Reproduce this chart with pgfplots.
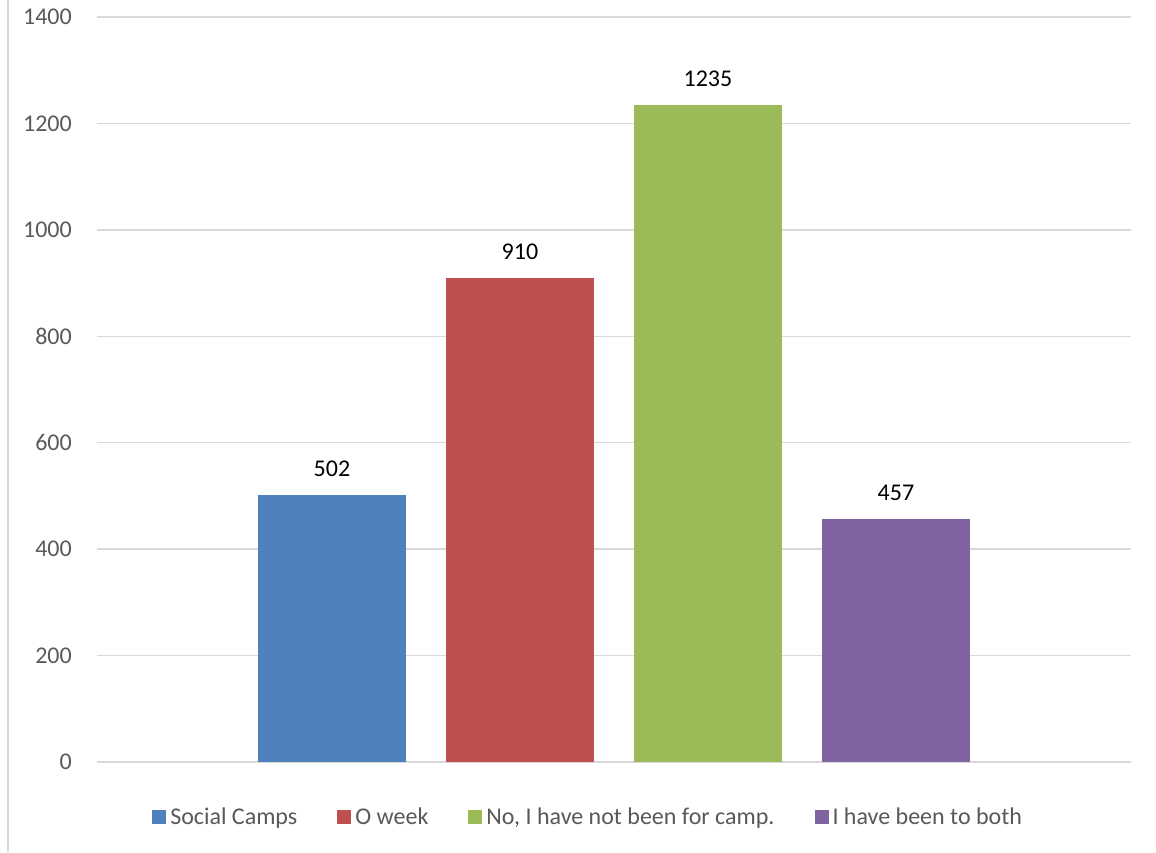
\documentclass[border=0pt]{standalone}
\usepackage{fontspec}
\setmainfont{Carlito}
\usepackage{pgfplots}
\pgfplotsset{compat=1.18}

\definecolor{cBlue}{HTML}{4F81BD}
\definecolor{cRed}{HTML}{C0504D}
\definecolor{cGreen}{HTML}{9BBB59}
\definecolor{cPurple}{HTML}{8064A2}
\definecolor{gridgray}{HTML}{D9D9D9}
\definecolor{labgray}{HTML}{595959}

\begin{document}
\begin{tikzpicture}
\useasboundingbox (0,0) rectangle (1156pt,852pt);
\draw[gridgray, line width=2pt] (8pt,0pt) -- (8pt,852pt);
\begin{axis}[
    at={(97pt,90pt)}, anchor=south west,
    scale only axis,
    width=1034pt, height=745pt,
    xmin=-1.25, xmax=4.25,
    ymin=0, ymax=1400,
    ytick={0,200,...,1400},
    xtick=\empty,
    axis line style={draw=none},
    major tick length=0pt,
    ymajorgrids=true,
    grid style={gridgray, line width=1.5pt},
    /pgf/number format/assume math mode=true,
    /pgf/number format/1000 sep={},
    yticklabel style={font=\fontsize{24}{29}\selectfont, text=labgray, inner sep=0pt, xshift=-25pt},
    nodes near coords,
    every node near coord/.append style={font=\fontsize{24}{29}\selectfont, text=black, anchor=center, yshift=26pt},
    legend columns=-1,
    legend image code/.code={\fill[#1] (0pt,-7pt) rectangle (14pt,7pt); \path (16pt,0pt);},
    legend style={draw=none, at={(0.475,-0.0738)}, anchor=center,
        font=\fontsize{24}{29}\selectfont, text=labgray,
        nodes={inner sep=2pt},
        /tikz/every even column/.append style={column sep=38pt}},
]
\addplot[ybar, bar shift=0pt, bar width=0.787, fill=cBlue, draw=none] coordinates {(0,502)};
\addlegendentry{Social Camps}
\addplot[ybar, bar shift=0pt, bar width=0.787, fill=cRed, draw=none] coordinates {(1,910)};
\addlegendentry{O week}
\addplot[ybar, bar shift=0pt, bar width=0.787, fill=cGreen, draw=none] coordinates {(2,1235)};
\addlegendentry{No, I have not been for camp.}
\addplot[ybar, bar shift=0pt, bar width=0.787, fill=cPurple, draw=none] coordinates {(3,457)};
\addlegendentry{I have been to both}
\end{axis}
\end{tikzpicture}
\end{document}
